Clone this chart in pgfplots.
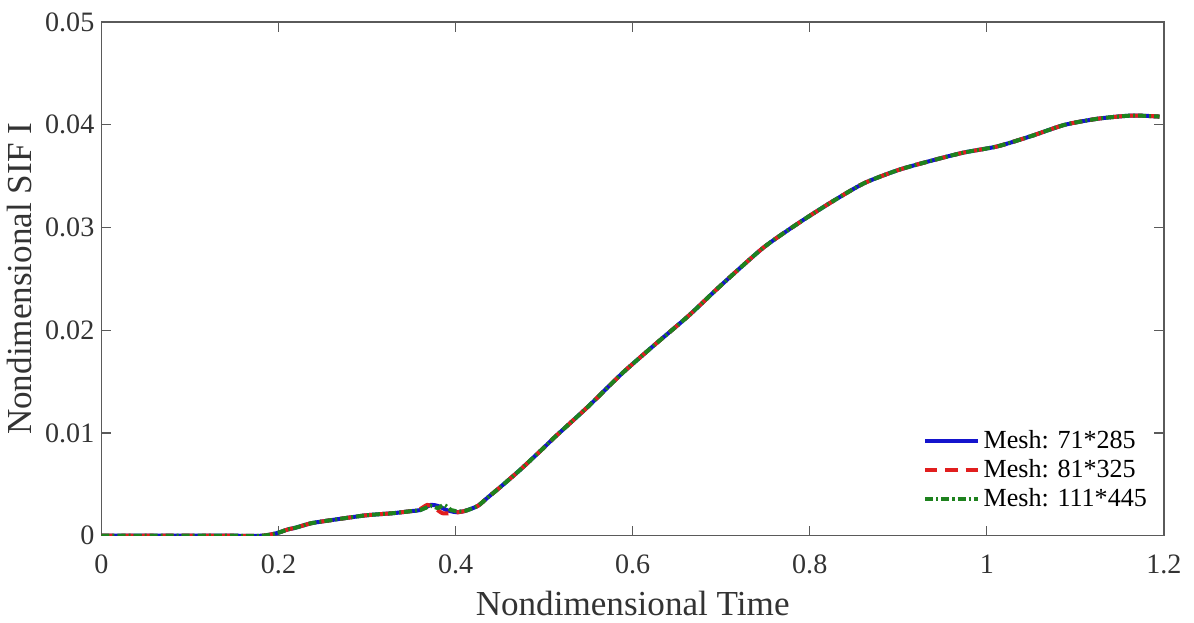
\documentclass[border=0pt]{standalone}
\usepackage{fontspec}
\setmainfont{Liberation Serif}
\usepackage{pgfplots}
\pgfplotsset{compat=1.18}
\definecolor{cblue}{RGB}{20,20,205}
\definecolor{cred}{RGB}{225,30,30}
\definecolor{cgreen}{RGB}{30,130,30}
\definecolor{axgray}{RGB}{90,90,90}
\begin{document}
\begin{tikzpicture}
\begin{axis}[
  scale only axis, width=529.5pt, height=256pt,
  xmin=0, xmax=1.2, ymin=0, ymax=0.05,
  xtick={0,0.2,0.4,0.6,0.8,1,1.2},
  ytick={0,0.01,0.02,0.03,0.04,0.05},
  tick align=inside, major tick length=5pt,
  tick style={color=axgray, line width=0.6pt},
  axis line style={axgray, line width=0.75pt},
  /pgf/number format/assume math mode=true,
  /pgf/number format/fixed,
  /pgf/number format/precision=2,
  scaled y ticks=false, scaled x ticks=false,
  yticklabel style={font=\fontsize{14}{14}\selectfont, text=black!80},
  xticklabel style={font=\fontsize{14}{14}\selectfont, text=black!80, yshift=-6pt},
  xlabel={Nondimensional Time},
  ylabel={Nondimensional SIF I},
  label style={font=\fontsize{17.5}{17.5}\selectfont, text=black!80},
  xlabel style={yshift=-1.5pt},
  ylabel style={yshift=0pt},
  legend style={at={(0.99,0.035)}, anchor=south east, draw=none, fill=white,
    font=\fontsize{13}{15}\selectfont, inner xsep=1pt, inner ysep=2pt,
    /tikz/every even column/.style={column sep=0pt}},
  legend cell align=left,
  legend image code/.code={\draw[#1] (0pt,0pt) -- (26pt,0pt);},
  every axis plot/.append style={smooth, tension=0.4},
]
\addplot[cblue, line width=2pt] coordinates {
(0,0) (0.05,0) (0.10,0) (0.15,0) (0.18,0) (0.19,0.0001) (0.20,0.0003)
(0.21,0.0006) (0.22,0.0008) (0.236,0.0012) (0.25,0.0014) (0.274,0.0017)
(0.30,0.0020) (0.33,0.0022) (0.35,0.0024) (0.36,0.0025) (0.372,0.0030)
(0.38,0.0029) (0.39,0.0025) (0.40,0.0023) (0.41,0.0024) (0.425,0.0029)
(0.436,0.0037) (0.45,0.0047) (0.474,0.0065) (0.50,0.0086) (0.512,0.0096)
(0.55,0.0126) (0.588,0.0158) (0.625,0.0186) (0.663,0.0214) (0.70,0.0244)
(0.747,0.0280) (0.785,0.0303) (0.823,0.0324) (0.861,0.0343) (0.90,0.0356)
(0.937,0.0365) (0.974,0.0373) (1.012,0.0379) (1.05,0.0389) (1.088,0.0400)
(1.126,0.0406) (1.164,0.0409) (1.195,0.0408)
};
\addlegendentry{Mesh: 71*285}
\addplot[cred, line width=2pt, dash pattern=on 6pt off 4pt] coordinates {
(0,0) (0.05,0) (0.10,0) (0.15,0) (0.18,0) (0.19,0.0001) (0.20,0.0003)
(0.21,0.0006) (0.22,0.0008) (0.236,0.0012) (0.25,0.0014) (0.274,0.0017)
(0.30,0.0020) (0.33,0.0022) (0.35,0.0024) (0.36,0.0026) (0.368,0.0030)
(0.375,0.0028) (0.385,0.0022) (0.395,0.0022) (0.41,0.0024) (0.425,0.0029)
(0.436,0.0037) (0.45,0.0047) (0.474,0.0065) (0.50,0.0086) (0.512,0.0096)
(0.55,0.0126) (0.588,0.0158) (0.625,0.0186) (0.663,0.0214) (0.70,0.0244)
(0.747,0.0280) (0.785,0.0303) (0.823,0.0324) (0.861,0.0343) (0.90,0.0356)
(0.937,0.0365) (0.974,0.0373) (1.012,0.0379) (1.05,0.0389) (1.088,0.0400)
(1.126,0.0406) (1.164,0.0409) (1.195,0.0408)
};
\addlegendentry{Mesh: 81*325}
\addplot[cgreen, line width=2pt, dash pattern=on 4pt off 1.5pt on 1pt off 1.5pt] coordinates {
(0,0) (0.05,0) (0.10,0) (0.15,0) (0.18,0) (0.19,0.0001) (0.20,0.0003)
(0.21,0.0006) (0.22,0.0008) (0.236,0.0012) (0.25,0.0014) (0.274,0.0017)
(0.30,0.0020) (0.33,0.0022) (0.35,0.0024) (0.36,0.0025) (0.372,0.0029)
(0.38,0.0027) (0.387,0.0030) (0.395,0.0025) (0.40,0.0024) (0.41,0.0024) (0.425,0.0029)
(0.436,0.0037) (0.45,0.0047) (0.474,0.0065) (0.50,0.0086) (0.512,0.0096)
(0.55,0.0126) (0.588,0.0158) (0.625,0.0186) (0.663,0.0214) (0.70,0.0244)
(0.747,0.0280) (0.785,0.0303) (0.823,0.0324) (0.861,0.0343) (0.90,0.0356)
(0.937,0.0365) (0.974,0.0373) (1.012,0.0379) (1.05,0.0389) (1.088,0.0400)
(1.126,0.0406) (1.164,0.0409) (1.195,0.0408)
};
\addlegendentry{Mesh: 111*445}
\end{axis}
\path (current axis.south east) ++(15pt,0pt);
\path (current axis.north west) ++(0pt,11pt);
\end{tikzpicture}
\end{document}
